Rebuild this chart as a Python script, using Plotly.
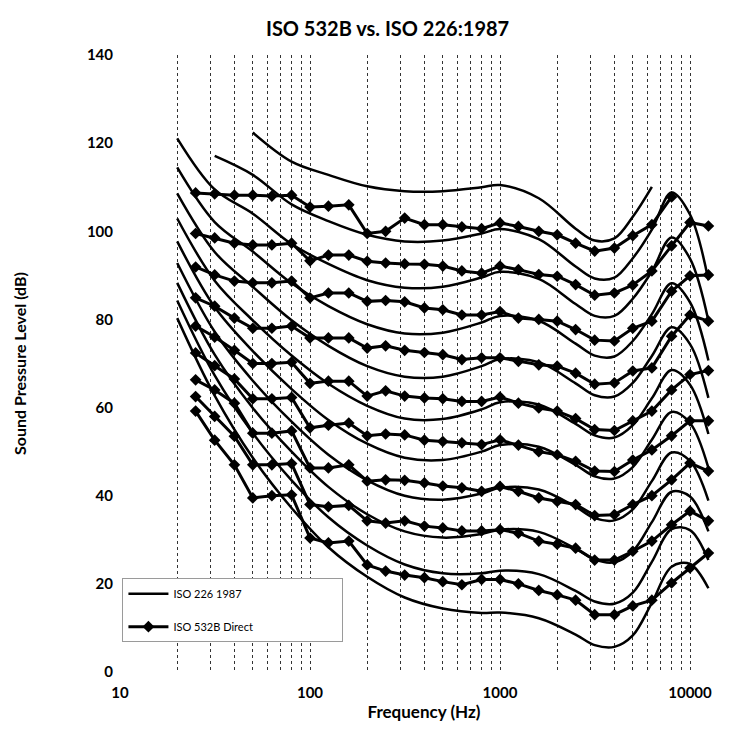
import plotly.graph_objects as go

# ---------------- data ----------------
iso_freq = [20, 31.5, 50, 80, 125, 200, 315, 500, 800, 1000, 1600, 2500, 3150,
            4000, 5000, 6300, 8000, 10000, 12500]
iso_10 = [80.3, 62.7, 48.6, 37.2, 28.3, 21.6, 16.9, 14.4, 13.4, 13.5, 12.2, 8.5, 6.1, 5.7, 8.3, 15.7, 23.9, 24.5, 19.0]
iso_20 = [84.3, 67.3, 54.2, 43.5, 35.1, 28.7, 24.4, 22.4, 22.4, 23.0, 22.2, 18.4, 16.0, 15.5, 18.0, 25.0, 32.4, 32.2, 25.4]
iso_30 = [88.3, 72.0, 59.9, 50.0, 42.0, 35.8, 31.9, 30.5, 31.3, 32.3, 31.8, 28.0, 25.5, 24.9, 27.4, 34.0, 40.9, 39.8, 31.9]
iso_40 = [92.8, 77.2, 66.1, 56.8, 49.3, 43.5, 40.0, 39.1, 40.5, 41.8, 41.4, 37.5, 34.9, 34.4, 36.9, 43.3, 49.8, 47.9, 38.9]
iso_50 = [97.7, 82.8, 72.8, 64.2, 57.2, 51.8, 48.6, 48.1, 50.0, 51.5, 51.1, 47.0, 44.4, 43.9, 46.5, 52.7, 59.0, 56.5, 46.3]
iso_60 = [102.9, 88.8, 79.8, 71.8, 65.4, 60.4, 57.5, 57.4, 59.6, 61.2, 60.7, 56.3, 53.7, 53.2, 56.0, 62.1, 68.5, 65.2, 54.0]
iso_70 = [108.6, 95.3, 87.4, 79.8, 74.0, 69.4, 67.0, 67.0, 69.4, 71.0, 70.3, 65.5, 62.8, 62.5, 65.6, 71.7, 78.2, 74.4, 62.2]
iso_80 = [114.5, 102.1, 95.4, 88.2, 83.0, 78.9, 76.8, 77.0, 79.3, 80.8, 79.7, 74.5, 71.8, 71.6, 75.1, 81.2, 88.2, 83.9, 70.7]
iso_90 = [121.1, 109.5, 104.0, 97.1, 92.6, 88.9, 87.2, 87.4, 89.5, 90.8, 89.2, 83.5, 80.8, 80.8, 84.7, 90.9, 98.6, 93.8, 79.7]
iso_100 = [None, 117.1, 112.8, 106.1, 102.3, 99.2, 97.7, 97.9, 99.5, 100.5, 98.2, 92.0, 89.3, 89.5, 93.9, 100.4, 108.8, 103.8, 88.9]
iso_110 = [None, None, 122.4, 115.8, 112.8, 110.2, 109.1, 109.1, 110.0, 110.5, 107.5, 100.6, 97.9, 98.4, 103.3, 110.1, None, None, None]

b532_freq = [25, 31.5, 40, 50, 63, 80, 100, 125, 160, 200, 250, 315, 400, 500, 630, 800,
             1000, 1250, 1600, 2000, 2500, 3150, 4000, 5000, 6300, 8000, 10000, 12500]
b532_100 = [108.7, 108.5, 108.2, 108.2, 108.0, 108.2, 105.5, 105.7, 106.0, 99.5, 100.0, 103.0, 101.5, 101.5, 101.0, 100.6,
            101.9, 101.1, 100.0, 99.2, 97.3, 95.5, 96.2, 99.0, 101.5, 107.8, None, None]
b532_90 = [99.5, 98.5, 97.3, 96.9, 96.9, 97.3, 93.3, 94.6, 94.6, 93.2, 92.8, 92.6, 92.5, 92.1, 91.0, 90.5,
           92.1, 91.3, 90.2, 89.8, 87.9, 85.5, 86.0, 87.8, 91.0, 96.7, 102.0, 101.2]
b532_80 = [91.9, 90.1, 88.7, 88.3, 88.3, 88.7, 84.9, 86.0, 86.0, 84.1, 84.3, 84.0, 82.6, 82.2, 81.0, 81.0,
           81.8, 80.3, 80.0, 79.6, 77.7, 75.3, 75.1, 78.0, 79.6, 86.4, 89.9, 90.1]
b532_70 = [84.9, 83.0, 80.3, 78.0, 78.0, 78.5, 75.8, 75.8, 75.8, 73.5, 74.0, 73.0, 72.5, 72.0, 70.9, 71.3,
           71.3, 70.5, 69.7, 69.4, 67.8, 65.3, 65.6, 68.3, 69.0, 76.2, 81.0, 79.6]
b532_60 = [78.5, 76.0, 73.0, 70.0, 70.0, 70.3, 65.5, 66.0, 66.0, 62.6, 63.8, 62.6, 62.2, 62.0, 61.4, 61.4,
           62.4, 61.0, 59.9, 59.2, 57.5, 55.0, 54.8, 57.0, 59.2, 64.0, 67.5, 68.4]
b532_50 = [72.4, 69.5, 66.5, 62.0, 62.0, 62.3, 55.4, 56.0, 56.5, 53.6, 54.0, 53.8, 52.6, 52.3, 52.0, 51.6,
           52.7, 51.5, 50.0, 49.3, 47.8, 45.6, 45.5, 48.1, 50.4, 53.6, 57.0, 57.0]
b532_40 = [66.3, 64.0, 61.0, 54.2, 54.2, 54.7, 46.3, 46.3, 47.0, 43.3, 43.6, 43.5, 42.9, 42.2, 41.8, 41.0,
           42.1, 41.0, 39.5, 38.7, 38.0, 35.5, 35.7, 38.0, 40.0, 43.6, 47.4, 45.6]
b532_30 = [62.5, 58.0, 53.5, 47.0, 47.0, 47.3, 38.0, 37.5, 37.8, 34.3, 33.8, 34.3, 33.1, 32.7, 32.0, 32.0,
           32.3, 31.5, 29.7, 29.0, 28.1, 25.4, 25.4, 27.4, 29.7, 33.4, 36.5, 34.3]
b532_20 = [59.2, 52.6, 47.0, 39.5, 40.0, 40.2, 30.4, 29.3, 29.7, 24.3, 22.9, 22.0, 21.4, 20.5, 19.8, 21.0,
           21.0, 20.0, 18.5, 17.5, 16.3, 13.0, 13.0, 15.0, 16.3, 20.2, 23.6, 27.0]

x_tick_vals = [10, 100, 1000, 10000]
x_tick_text = ["10", "100", "1000", "10000"]
x_grid_vals = [20, 30, 40, 50, 60, 70, 80, 90, 100, 200, 300, 400, 500, 600, 700, 800, 900,
               1000, 2000, 3000, 4000, 5000, 6000, 7000, 8000, 9000, 10000]

iso_curves = [iso_110, iso_100, iso_90, iso_80, iso_70, iso_60, iso_50, iso_40, iso_30, iso_20, iso_10]
b532_curves = [b532_100, b532_90, b532_80, b532_70, b532_60, b532_50, b532_40, b532_30, b532_20]

ISO_NAME = "ISO 226 1987"
B532_NAME = "ISO 532B Direct"
PAD = "\u00a0" * 30  # widen the legend box like the reference

# ---------------- figure ----------------
FONT = "Lato, 'Open Sans', sans-serif"
fig = go.Figure()

for i, ys in enumerate(iso_curves):
    fig.add_trace(go.Scatter(
        x=iso_freq, y=ys, mode="lines",
        line=dict(color="black", width=2.5, shape="spline", smoothing=1.0),
        name=ISO_NAME + PAD, legendgroup="iso", showlegend=(i == 0),
        connectgaps=False, hoverinfo="skip"))

for i, ys in enumerate(b532_curves):
    fig.add_trace(go.Scatter(
        x=b532_freq, y=ys, mode="lines+markers",
        line=dict(color="black", width=3),
        marker=dict(symbol="diamond", size=9, color="black"),
        name=B532_NAME + PAD, legendgroup="b532", showlegend=(i == 0),
        connectgaps=False, hoverinfo="skip"))

fig.update_layout(
    width=730, height=734,
    margin=dict(l=112, r=10, t=47, b=70),
    paper_bgcolor="white", plot_bgcolor="white",
    font=dict(family=FONT, color="black"),
    title=dict(text="ISO 532B vs. ISO 226:1987", x=0.52, xanchor="center",
               y=0.971, yanchor="middle", yref="container",
               font=dict(family=FONT, size=20, weight=700, color="black")),
    showlegend=True,
    legend=dict(x=0.004, y=0.152, xanchor="left", yanchor="top",
                bgcolor="white", bordercolor="#9a9a9a", borderwidth=1,
                font=dict(family=FONT, size=11, color="black"),
                tracegroupgap=14, itemwidth=40),
)

fig.update_xaxes(
    type="log", range=[1, 4.2],
    tickmode="array", tickvals=x_tick_vals, ticktext=x_tick_text,
    showgrid=False, zeroline=False, showline=False, ticks="",
    ticklabelstandoff=10,
    tickfont=dict(family=FONT, size=15, weight=700, color="black"),
    minor=dict(tickmode="array", tickvals=x_grid_vals, showgrid=True,
               gridcolor="#333333", gridwidth=1, griddash="dot", ticks=""),
    title=dict(text="Frequency (Hz)", standoff=6,
               font=dict(family=FONT, size=17, weight=700, color="black")),
)

fig.update_yaxes(
    range=[0, 140], dtick=20, tick0=0,
    showgrid=False, zeroline=False, showline=False, ticks="",
    ticklabelstandoff=6,
    tickfont=dict(family=FONT, size=15, weight=700, color="black"),
    title=dict(text="Sound Pressure Level (dB)", standoff=56,
               font=dict(family=FONT, size=16, weight=700, color="black")),
)

fig.write_html("out.html")
